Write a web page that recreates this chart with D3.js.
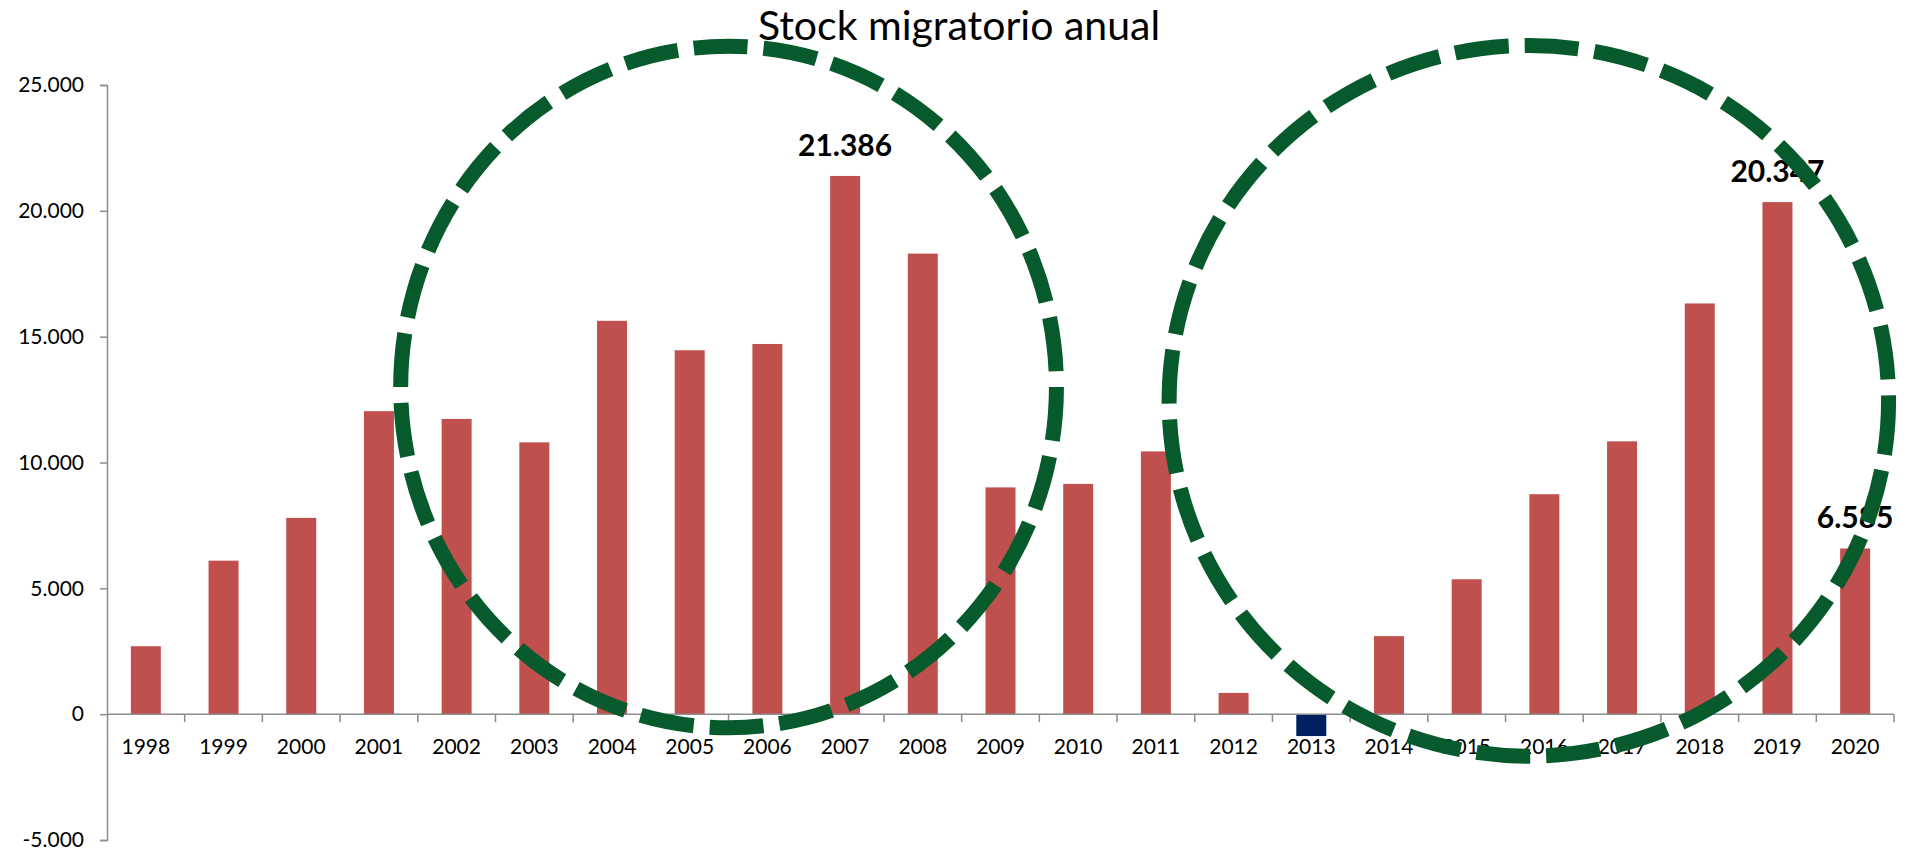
<!DOCTYPE html>
<html>
<head>
<meta charset="utf-8">
<script src="https://cdn.jsdelivr.net/npm/d3@7/dist/d3.min.js"></script>
<style>
  html, body { margin: 0; padding: 0; background: #ffffff; }
  svg { display: block; }
</style>
</head>
<body>
<svg id="chart" width="1905" height="852"></svg>
<script>
// ---- data ----
const titleText = "Stock migratorio anual";
const years = ["1998","1999","2000","2001","2002","2003","2004","2005","2006","2007","2008",
               "2009","2010","2011","2012","2013","2014","2015","2016","2017","2018","2019","2020"];
const values = [2700, 6100, 7800, 12040, 11730, 10800, 15630, 14460, 14710, 21386, 18300,
                9010, 9150, 10440, 845, -870, 3100, 5360, 8740, 10840, 16320, 20347, 6585];
const labelledYears = ["2007", "2019", "2020"];
const yTicks = [-5000, 0, 5000, 10000, 15000, 20000, 25000];
// dashed highlight ellipses, in data units (category index, value)
const ringCenterIndex = [7.5, 17.8];
const ringCenterValue = [13000, 12450];
const ringRadiusCategories = [4.22, 4.63];
const ringRadiusValue = [13540, 14120];

// ---- layout ----
const W = 1905, H = 852;
const plotLeft = 107, plotRight = 1894, plotTop = 85, plotBottom = 840;
const svg = d3.select("#chart");
svg.append("rect").attr("width", W).attr("height", H).attr("fill", "#ffffff");

const fmt = d3.formatLocale({decimal: ",", thousands: ".", grouping: [3], currency: ["", "€"], minus: "-"}).format(",d");

const x = d3.scaleBand().domain(years).range([plotLeft, plotRight]).paddingInner(0.614).paddingOuter(0.307);
const step = x.step();
const xIdx = d3.scaleLinear().domain([-0.5, years.length - 0.5]).range([plotLeft, plotRight]);
const y = d3.scaleLinear().domain([-5000, 25000]).range([plotBottom, plotTop]);

const axisColor = "#8c8c8c";
const font = "Lato, 'Open Sans', sans-serif";

// bars
svg.append("g").selectAll("rect").data(years).join("rect")
  .attr("x", d => x(d))
  .attr("width", x.bandwidth())
  .attr("y", (d, i) => y(Math.max(0, values[i])))
  .attr("height", (d, i) => Math.abs(y(values[i]) - y(0)))
  .attr("fill", (d, i) => values[i] < 0 ? "#002060" : "#C0504D");

// y axis
const yAxis = d3.axisLeft(y).tickValues(yTicks).tickFormat(fmt).tickSize(7).tickPadding(16);
const gy = svg.append("g").attr("transform", `translate(${plotLeft},0)`).call(yAxis);
gy.select(".domain").attr("stroke", axisColor).attr("stroke-width", 1.5);
gy.selectAll(".tick line").attr("stroke", axisColor).attr("stroke-width", 1.5);
gy.selectAll(".tick text").attr("fill", "#000").attr("font-family", font).attr("font-size", 21);

// x axis at zero
const boundaries = d3.range(1, years.length + 1).map(i => plotLeft + i * step);
const gx = svg.append("g");
gx.append("line").attr("x1", plotLeft).attr("x2", plotRight).attr("y1", y(0)).attr("y2", y(0))
  .attr("stroke", axisColor).attr("stroke-width", 1.5);
gx.selectAll("line.tk").data(boundaries).join("line").attr("class", "tk")
  .attr("x1", d => d).attr("x2", d => d).attr("y1", y(0)).attr("y2", y(0) + 8)
  .attr("stroke", axisColor).attr("stroke-width", 1.5);
gx.selectAll("text").data(years).join("text")
  .attr("x", d => x(d) + x.bandwidth() / 2)
  .attr("y", y(0) + 40)
  .attr("text-anchor", "middle")
  .attr("font-family", font).attr("font-size", 21).attr("fill", "#000")
  .text(d => d);

// data labels
svg.append("g").selectAll("text").data(labelledYears).join("text")
  .attr("x", d => x(d) + x.bandwidth() / 2)
  .attr("y", d => y(values[years.indexOf(d)]) - 20)
  .attr("text-anchor", "middle")
  .attr("font-family", font).attr("font-weight", "bold").attr("font-size", 30).attr("fill", "#000")
  .text(d => fmt(values[years.indexOf(d)]));

// dashed rings
svg.append("g").selectAll("ellipse").data(ringCenterIndex).join("ellipse")
  .attr("cx", d => xIdx(d))
  .attr("cy", (d, i) => y(ringCenterValue[i]))
  .attr("rx", (d, i) => ringRadiusCategories[i] * step)
  .attr("ry", (d, i) => y(0) - y(ringRadiusValue[i]))
  .attr("fill", "none")
  .attr("stroke", "#065A2B")
  .attr("stroke-width", 15)
  .attr("stroke-dasharray", "54,16");

// title
svg.append("text").attr("x", 959).attr("y", 40).attr("text-anchor", "middle")
  .attr("font-family", font).attr("font-size", 41).attr("fill", "#000")
  .text(titleText);
</script>
</body>
</html>
